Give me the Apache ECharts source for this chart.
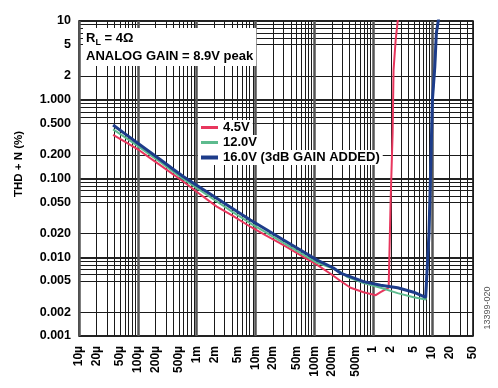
<!DOCTYPE html>
<html><head><meta charset="utf-8">
<script src="https://cdn.jsdelivr.net/npm/echarts@6/dist/echarts.min.js"></script>
<style>html,body{margin:0;padding:0;background:#fff}#c{width:498px;height:388px}</style>
</head><body><div id="c"></div>
<script>
// ---------- data ----------
const seriesNames = ['4.5V', '12.0V', '16.0V (3dB GAIN ADDED)'];

const power45 = [38e-6, 60e-6, 100e-6, 160e-6, 240e-6, 400e-6, 600e-6, 1e-3, 2.2e-3, 4e-3, 8.2e-3, 15e-3, 30e-3, 60e-3, 112e-3, 200e-3, 280e-3, 414e-3, 690e-3, 1.11, 1.34, 1.84, 1.99, 2.15, 2.23, 2.42, 2.61, 2.8];
const thd45   = [0.357, 0.293, 0.235, 0.183, 0.148, 0.113, 0.091, 0.068, 0.044, 0.034, 0.0244, 0.019, 0.0143, 0.0105, 0.0080, 0.0060, 0.0050, 0.0041, 0.0036, 0.0033, 0.0036, 0.0041, 0.053, 0.38, 2.4, 5.7, 9.7, 15];

const power12 = [38e-6, 60e-6, 100e-6, 160e-6, 240e-6, 400e-6, 600e-6, 1e-3, 2.2e-3, 4e-3, 8.2e-3, 15e-3, 30e-3, 60e-3, 112e-3, 200e-3, 279e-3, 368e-3, 690e-3, 1.34, 2.61, 4.9, 7.84, 8.3, 8.93, 9.55, 10.2, 11.2, 11.9, 12.9, 14];
const thd12   = [0.42, 0.335, 0.259, 0.201, 0.162, 0.122, 0.098, 0.076, 0.051, 0.038, 0.027, 0.0207, 0.0152, 0.0112, 0.0085, 0.0073, 0.0065, 0.0056, 0.0047, 0.0041, 0.0035, 0.0031, 0.0029, 0.0030, 0.020, 0.14, 0.99, 2.6, 7.0, 10.3, 20];

const power16 = [38e-6, 60e-6, 100e-6, 160e-6, 240e-6, 400e-6, 600e-6, 1e-3, 2.2e-3, 4e-3, 8.2e-3, 15e-3, 30e-3, 60e-3, 112e-3, 212e-3, 279e-3, 690e-3, 1.34, 2.61, 4.9, 7.84, 8.3, 8.93, 9.55, 10.2, 11.2, 11.9, 12.9, 14];
const thd16   = [0.478, 0.371, 0.280, 0.217, 0.174, 0.131, 0.105, 0.082, 0.056, 0.042, 0.0297, 0.0227, 0.0166, 0.0122, 0.0092, 0.0073, 0.0063, 0.0049, 0.0044, 0.0041, 0.0036, 0.0031, 0.0031, 0.020, 0.14, 0.99, 2.6, 7.0, 10.3, 20];

const xTickLabels = [1e-5, 2e-5, 5e-5, 1e-4, 2e-4, 5e-4, 1e-3, 2e-3, 5e-3, 1e-2, 2e-2, 5e-2, 0.1, 0.2, 0.5, 1, 2, 5, 10, 20, 50];
const yTickLabels = [0.001, 0.002, 0.005, 0.01, 0.02, 0.05, 0.1, 0.2, 0.5, 1, 2, 5, 10];

// ---------- grid line positions (styling) ----------
const xMinorGrid = [], xDecadeGrid = [];
for (let e = -5; e <= 1; e++) {
  for (let k = 1; k <= 9; k++) {
    const v = +(k * Math.pow(10, e)).toPrecision(6);
    if (v <= 50) xMinorGrid.push(v);
  }
  xDecadeGrid.push(+Math.pow(10, e).toPrecision(6));
}
const yMinorGrid = [], yDecadeGrid = [];
for (let e = -3; e <= 0; e++) {
  [1, 2, 5, 6, 7, 8, 9].forEach(k => yMinorGrid.push(+(k * Math.pow(10, e)).toPrecision(6)));
  yDecadeGrid.push(+Math.pow(10, e).toPrecision(6));
}
yMinorGrid.push(10); yDecadeGrid.push(10);

const F = '"Liberation Sans", Arial, sans-serif';
const zip = (a, b) => a.map((v, i) => [v, b[i]]);

function xFmt(v) {
  if (v < 1e-3) return Math.round(v * 1e6) + 'µ';
  if (v < 1) return Math.round(v * 1e3) + 'm';
  return String(Math.round(v));
}
function yFmt(v) {
  if (v >= 2) return String(Math.round(v));
  return v.toFixed(3);
}

const colors = ['#e8365d', '#5dbb8e', '#1d3c8a'];
const widths = [2, 2, 3];

const chart = echarts.init(document.getElementById('c'), null, {renderer: 'canvas'});
const legendTops = [120, 135, 150];
chart.setOption({
  animation: false,
  backgroundColor: '#fff',
  grid: {left: 79, right: 25, top: 21, bottom: 52, show: true, borderColor: '#000', borderWidth: 1.5, outerBoundsMode: 'none'},
  xAxis: [{
    type: 'log', logBase: 10, min: 1e-5, max: 50,
    axisLine: {show: false},
    axisTick: {show: false, customValues: xMinorGrid},
    axisLabel: {customValues: xTickLabels, formatter: xFmt, rotate: 90, margin: 10,
      fontFamily: F, fontWeight: 'bold', fontSize: 12, color: '#000'},
    splitLine: {show: true, lineStyle: {color: '#1a1a1a', width: 1}},
    minorSplitLine: {show: false}
  }, {
    type: 'log', logBase: 10, min: 1e-5, max: 50, position: 'bottom',
    axisLine: {show: false}, axisLabel: {show: false},
    axisTick: {show: false, customValues: xDecadeGrid},
    splitLine: {show: true, lineStyle: {color: '#555', width: 2.5}}
  }],
  yAxis: [{
    type: 'log', logBase: 10, min: 0.001, max: 10,
    axisLine: {show: false},
    axisTick: {show: false, customValues: yMinorGrid},
    axisLabel: {customValues: yTickLabels, formatter: yFmt, margin: 8,
      fontFamily: F, fontWeight: 'bold', fontSize: 12.5, color: '#000'},
    splitLine: {show: true, lineStyle: {color: '#1a1a1a', width: 1}}
  }, {
    type: 'log', logBase: 10, min: 0.001, max: 10, position: 'left',
    axisLine: {show: false}, axisLabel: {show: false},
    axisTick: {show: false, customValues: yDecadeGrid},
    splitLine: {show: true, lineStyle: {color: '#222', width: 2}}
  }],
  legend: seriesNames.map((n, i) => ({
    data: [n], left: 198, top: legendTops[i], orient: 'vertical',
    backgroundColor: '#fff', padding: [1, 3, 1, 3],
    icon: 'rect', itemWidth: 17, itemHeight: i === 2 ? 4 : 3, itemGap: 0,
    selectedMode: false,
    textStyle: {fontFamily: F, fontWeight: 'bold', fontSize: 13, color: '#000', padding: [0, 0, 0, 0]}
  })),
  series: [
    {name: seriesNames[0], type: 'line', data: zip(power45, thd45)},
    {name: seriesNames[1], type: 'line', data: zip(power12, thd12)},
    {name: seriesNames[2], type: 'line', data: zip(power16, thd16)}
  ].map((s, i) => Object.assign(s, {
    showSymbol: false, symbol: 'none', smooth: false, clip: true, z: 3 + i,
    color: colors[i], lineStyle: {color: colors[i], width: widths[i]}
  })),
  graphic: [
    {type: 'text', left: 83, top: 28, z: 100,
      style: {
        text: '{b|R}{s|L}{b| = 4Ω}\n{b|ANALOG GAIN = 8.9V peak}',
        rich: {
          b: {fontFamily: F, fontWeight: 'bold', fontSize: 13, lineHeight: 18, fill: '#000', color: '#000'},
          s: {fontFamily: F, fontWeight: 'bold', fontSize: 9, lineHeight: 18, verticalAlign: 'bottom', fill: '#000', color: '#000'}
        },
        backgroundColor: '#fff', padding: [1, 3, 1, 3]
      }},
    {type: 'text', x: 19, y: 164, rotation: Math.PI / 2, z: 100,
      style: {text: 'THD + N (%)', fontFamily: F, fontWeight: 'bold', fontSize: 11.5, fill: '#000', align: 'center', verticalAlign: 'middle'}},
    {type: 'text', x: 488, y: 308, rotation: Math.PI / 2, z: 100,
      style: {text: '13399-020', fontFamily: F, fontSize: 9, fill: '#555', align: 'center', verticalAlign: 'middle'}}
  ]
});
</script>
</body></html>
